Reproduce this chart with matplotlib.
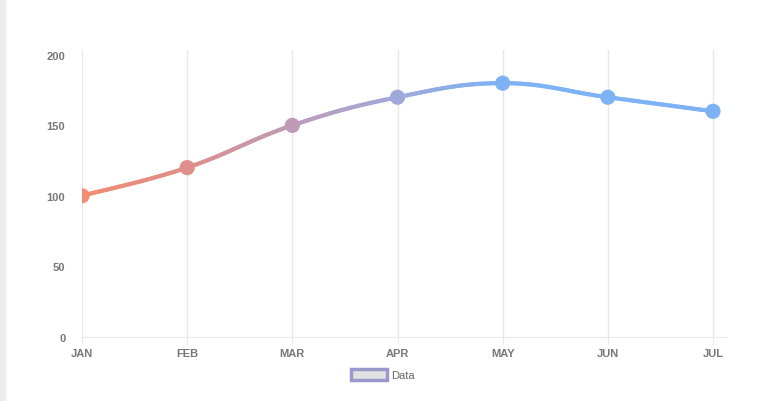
import numpy as np
import matplotlib
matplotlib.use('Agg')
import matplotlib.pyplot as plt
from matplotlib.collections import LineCollection
from matplotlib.colors import LinearSegmentedColormap
from matplotlib.patches import Rectangle

# datos del grafico
months = ['JAN', 'FEB', 'MAR', 'APR', 'MAY', 'JUN', 'JUL']
values = [100, 120, 150, 170, 180, 170, 160]
yticks = [0, 50, 100, 150, 200]
legend_label = 'Data'

# degradado de salmon a azul
cmap = LinearSegmentedColormap.from_list(
    'grad', [(0, '#f48b72'), (0.25, '#de8f8c'), (0.5, '#bf9bb8'), (0.75, '#9fa9da'), (1, '#7db3f4')])

fig = plt.figure(figsize=(7.68, 4.02), dpi=100)
fig.patches.append(Rectangle((0, 0), 5 / 768, 1, transform=fig.transFigure,
                             color='#ececec', zorder=0))
ax = fig.add_axes([82 / 768, 1 - 337.5 / 402, (726 - 82) / 768, (337.5 - 51) / 402])

x = np.arange(len(values), dtype=float)
y = np.array(values, dtype=float)

# curva suave tipo chart.js (tension 0.4)
t = 0.4
xs, ys = [], []
for i in range(len(x) - 1):
    p0 = (x[i], y[i])
    p3 = (x[i + 1], y[i + 1])
    prev = (x[i - 1], y[i - 1]) if i > 0 else p0
    nxt = (x[i + 2], y[i + 2]) if i + 2 < len(x) else p3
    c1 = (p0[0] + t * (p3[0] - prev[0]) / 2, p0[1] + t * (p3[1] - prev[1]) / 2)
    c2 = (p3[0] - t * (nxt[0] - p0[0]) / 2, p3[1] - t * (nxt[1] - p0[1]) / 2)
    s = np.linspace(0, 1, 40)
    bx = (1 - s) ** 3 * p0[0] + 3 * (1 - s) ** 2 * s * c1[0] + 3 * (1 - s) * s ** 2 * c2[0] + s ** 3 * p3[0]
    by = (1 - s) ** 3 * p0[1] + 3 * (1 - s) ** 2 * s * c1[1] + 3 * (1 - s) * s ** 2 * c2[1] + s ** 3 * p3[1]
    xs.extend(bx)
    ys.extend(by)
xs = np.array(xs)
ys = np.array(ys)

grad_end = 4.0
pts = np.column_stack([xs, ys]).reshape(-1, 1, 2)
segs = np.concatenate([pts[:-1], pts[1:]], axis=1)
cols = cmap(np.clip(xs[:-1] / grad_end, 0, 1))
lc = LineCollection(segs, colors=cols, linewidth=3, capstyle='round', zorder=3)
ax.add_collection(lc)
ax.scatter(x, y, s=120, c=cmap(np.clip(x / grad_end, 0, 1)), zorder=4, linewidths=0)

ax.set_xlim(0, 6 + 13 / 631 * 6)
ax.set_ylim(0, 200 + 5 / 281 * 200)
ax.set_xticks(x)
ax.set_xticklabels(months)
ax.set_yticks(yticks)
ax.grid(axis='x', color='#e8e8e8', linewidth=1)
ax.set_axisbelow(True)
for s in ['top', 'right', 'left']:
    ax.spines[s].set_visible(False)
ax.spines['bottom'].set_color('#e8e8e8')
ax.tick_params(axis='x', length=5, color='#e8e8e8', pad=3)
ax.tick_params(axis='y', length=0, pad=12)
for lab in ax.get_xticklabels() + ax.get_yticklabels():
    lab.set_fontsize(8)
    lab.set_fontweight('bold')
    lab.set_color('#777777')
    lab.set_family('Liberation Sans')

# leyenda
fig.patches.append(Rectangle((351 / 768, 1 - 381 / 402), 36 / 768, 11 / 402, transform=fig.transFigure,
                             facecolor='#e2e2e2', edgecolor='#9b98cc', linewidth=2.5))
fig.text(391 / 768, 1 - 376 / 402, legend_label, fontsize=8, color='#666666',
         va='center', ha='left', family='Liberation Sans')

fig.savefig('out.png', dpi=100)
